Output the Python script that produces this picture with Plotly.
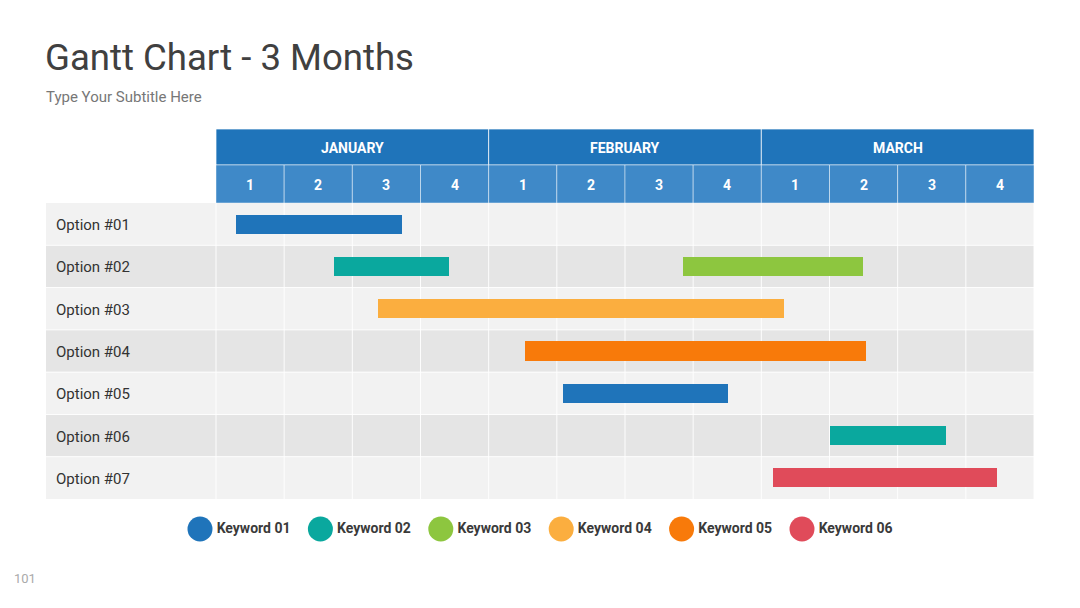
import plotly.graph_objects as go

# ---------------- data ----------------
title = "Gantt Chart - 3 Months"
subtitle = "Type Your Subtitle Here"
page_no = "101"
months = ["JANUARY", "FEBRUARY", "MARCH"]
weeks = ["1", "2", "3", "4"]
options = ["Option #01", "Option #02", "Option #03", "Option #04",
           "Option #05", "Option #06", "Option #07"]
# tasks (row index, start week, end week, keyword index)
task_rows = [0, 1, 1, 2, 3, 4, 5, 6]
task_start = [0.30, 1.73, 6.85, 2.38, 4.53, 5.09, 9.01, 8.17]
task_end = [2.73, 3.42, 9.49, 8.33, 9.54, 7.51, 10.71, 11.46]
task_kw = [0, 1, 2, 3, 4, 0, 1, 5]
keywords = ["Keyword 01", "Keyword 02", "Keyword 03",
            "Keyword 04", "Keyword 05", "Keyword 06"]
kw_colors = ["#1F74BA", "#0AA89E", "#8DC63F", "#FBAE3F", "#F87A0A", "#E04B5A"]

# ---------------- layout constants ----------------
W, H = 1080, 608
left_px, right_px = 46, 1034
grid_left_px = 216
n_weeks = len(months) * len(weeks)
col_w = (right_px - grid_left_px) / n_weeks
x_min = -(grid_left_px - left_px) / col_w
top_px, body_top_px, bottom_px, split_px = 129, 203, 499, 165
row_h = (bottom_px - body_top_px) / len(options)
y_top = -(body_top_px - top_px) / row_h
y_split = -(body_top_px - split_px) / row_h
n_rows = len(options)

FONT = "Roboto"

fig = go.Figure()

# bars
fig.add_trace(go.Bar(
    orientation="h",
    y=[r + 0.5 for r in task_rows],
    base=task_start,
    x=[e - s for s, e in zip(task_start, task_end)],
    width=0.45,
    marker=dict(color=[kw_colors[k] for k in task_kw], line=dict(width=0)),
    hoverinfo="skip",
    showlegend=False,
))

shapes = []
annotations = []

# header: months
for m, name in enumerate(months):
    x0 = m * len(weeks)
    shapes.append(dict(type="rect", xref="x", yref="y", x0=x0, x1=x0 + len(weeks),
                       y0=y_top, y1=y_split, fillcolor="#1F74BA",
                       line=dict(color="rgba(255,255,255,0.7)", width=1), layer="below"))
    annotations.append(dict(x=x0 + len(weeks) / 2, y=(y_top + y_split) / 2, xref="x", yref="y",
                            yshift=-1, text="<b>%s</b>" % name, showarrow=False,
                            font=dict(family=FONT, size=14, color="white")))
    for w, wk in enumerate(weeks):
        xx = x0 + w
        shapes.append(dict(type="rect", xref="x", yref="y", x0=xx, x1=xx + 1,
                           y0=y_split, y1=0, fillcolor="#3F89C8",
                           line=dict(color="rgba(255,255,255,0.45)", width=1), layer="below"))
        annotations.append(dict(x=xx + 0.5, y=y_split / 2, xref="x", yref="y",
                                yshift=-1, text="<b>%s</b>" % wk, showarrow=False,
                                font=dict(family=FONT, size=14, color="white")))

# body rows
for r, opt in enumerate(options):
    shapes.append(dict(type="rect", xref="x", yref="y", x0=x_min, x1=n_weeks,
                       y0=r, y1=r + 1, fillcolor="#F2F2F2" if r % 2 == 0 else "#E5E5E5",
                       line=dict(width=0), layer="below"))
    annotations.append(dict(x=x_min, y=r + 0.5, xref="x", yref="y", xanchor="left",
                            xshift=8, yshift=-1, text=opt, showarrow=False,
                            font=dict(family=FONT, size=15, color="#333333")))
# row separators
for r in range(1, n_rows):
    shapes.append(dict(type="line", xref="x", yref="y", x0=x_min, x1=n_weeks, y0=r, y1=r,
                       line=dict(color="rgba(255,255,255,0.9)", width=1), layer="below"))
# column separators
for c in range(0, n_weeks + 1):
    shapes.append(dict(type="line", xref="x", yref="y", x0=c, x1=c, y0=0, y1=n_rows,
                       line=dict(color="rgba(255,255,255,0.9)", width=1), layer="below"))

# legend on second axes
fig.add_trace(go.Scatter(
    x=list(range(len(keywords))), y=[0] * len(keywords),
    mode="markers+text",
    marker=dict(size=25, color=kw_colors, line=dict(width=0)),
    text=["<b>%s</b>" % k for k in keywords],
    textposition="middle right",
    textfont=dict(family=FONT, size=14, color="#3A3A3A"),
    xaxis="x2", yaxis="y2", hoverinfo="skip", showlegend=False, cliponaxis=False,
))

# titles
annotations.append(dict(x=left_px / W, y=1 - 57 / H, xref="paper", yref="paper",
                        xanchor="left", yanchor="middle", xshift=-3, text=title, showarrow=False,
                        font=dict(family=FONT, size=36.6, color="#404040")))
annotations.append(dict(x=left_px / W, y=1 - 97 / H, xref="paper", yref="paper",
                        xanchor="left", yanchor="middle", xshift=-2, text=subtitle, showarrow=False,
                        font=dict(family=FONT, size=15, color="#777777")))
annotations.append(dict(x=14 / W, y=1 - 578 / H, xref="paper", yref="paper",
                        xanchor="left", yanchor="middle", xshift=-2, text=page_no, showarrow=False,
                        font=dict(family=FONT, size=13, color="#AAAAAA")))

leg_step = 120.4
leg_x0 = 200
fig.update_layout(
    width=W, height=H,
    margin=dict(l=0, r=0, t=0, b=0),
    paper_bgcolor="white", plot_bgcolor="rgba(0,0,0,0)",
    xaxis=dict(domain=[left_px / W, right_px / W], range=[x_min, n_weeks],
               showgrid=False, zeroline=False, showticklabels=False, fixedrange=True),
    yaxis=dict(domain=[1 - bottom_px / H, 1 - top_px / H], range=[n_rows, y_top],
               showgrid=False, zeroline=False, showticklabels=False, fixedrange=True),
    xaxis2=dict(domain=[0, 1], range=[-leg_x0 / leg_step, (W - leg_x0) / leg_step],
                visible=False, anchor="y2"),
    yaxis2=dict(domain=[1 - 549 / H, 1 - 509 / H], range=[-1, 1], visible=False, anchor="x2"),
    shapes=shapes, annotations=annotations,
    bargap=0, showlegend=False,
)

fig.write_html("out.html")
